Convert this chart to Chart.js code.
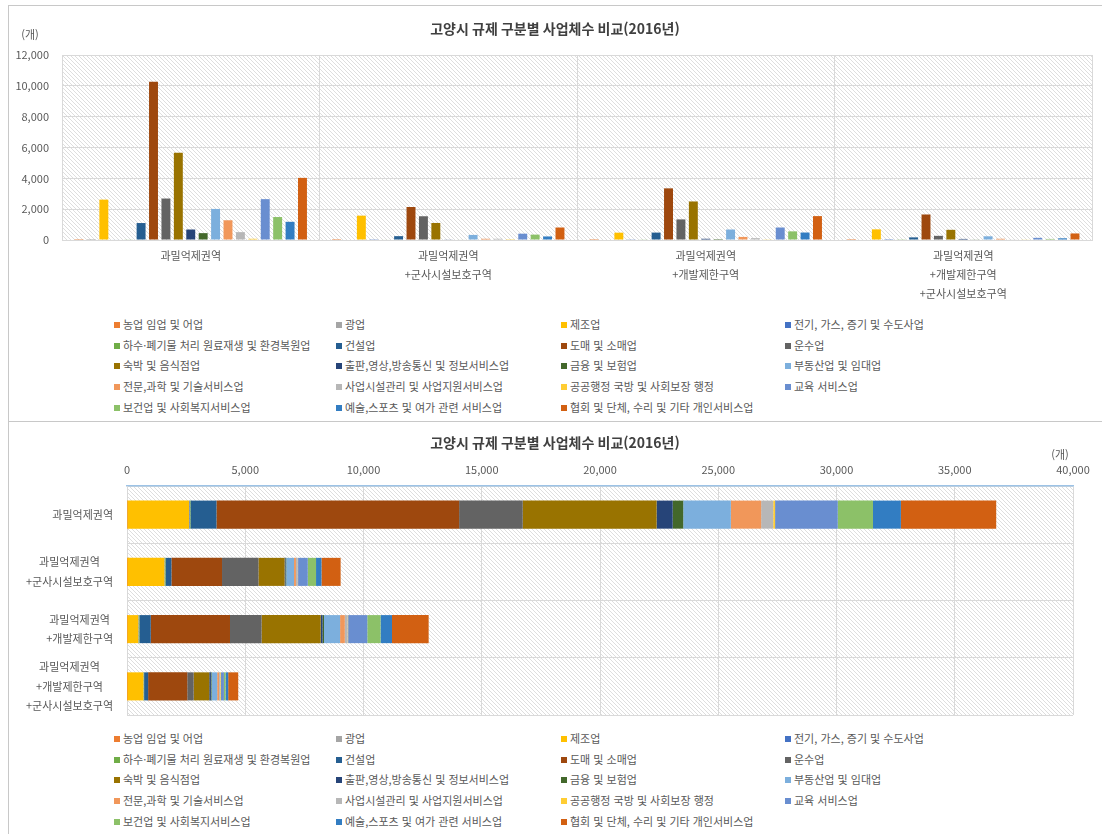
<!DOCTYPE html>
<html lang="ko">
<head>
<meta charset="utf-8">
<title>고양시 규제 구분별 사업체수 비교(2016년)</title>
<script src="https://cdn.jsdelivr.net/npm/chart.js@4.4.1/dist/chart.umd.min.js"></script>
<style>
    html, body { margin: 0; padding: 0; background: #fff; overflow: hidden; }
    body { width: 1102px; height: 834px; position: relative; font-family: "Noto Sans CJK KR", "Noto Sans", sans-serif; }
    .panel { position: absolute; left: 8px; width: 1100px; border: 1px solid #c8c8c8; box-sizing: border-box; background: #fff; overflow: hidden; }
    #topPanel { top: 5px; height: 417px; }
    #bottomPanel { top: 421px; height: 420px; }
    .panel canvas { position: absolute; left: 0; top: 0; }
    .legend { position: absolute; left: 105px; display: grid; grid-template-columns: 222px 225px 224px 250px; font-size: 11px; color: #595959; }
    .legend div { height: 20.7px; line-height: 20.7px; white-space: nowrap; }
    .legend i { display: inline-block; width: 6px; height: 6px; margin-right: 3px; vertical-align: middle; position: relative; top: -1px; }
</style>
</head>
<body>
<div class="panel" id="topPanel">
    <canvas id="groupChart" width="1092" height="300"></canvas>
    <div class="legend" id="topLegend" style="top:308px"></div>
</div>
<div class="panel" id="bottomPanel">
    <canvas id="stackChart" width="1092" height="306"></canvas>
    <div class="legend" id="bottomLegend" style="top:306px"></div>
</div>
<script>
// ---- data ----
const titleText = '고양시 규제 구분별 사업체수 비교(2016년)';
const unitText = '(개)';

const zones = [
    '과밀억제권역',
    ['과밀억제권역', '+군사시설보호구역'],
    ['과밀억제권역', '+개발제한구역'],
    ['과밀억제권역', '+개발제한구역', '+군사시설보호구역']
];

const industries = [
    '농업 임업 및 어업',
    '광업',
    '제조업',
    '전기, 가스, 증기 및 수도사업',
    '하수·폐기물 처리 원료재생 및 환경복원업',
    '건설업',
    '도매 및 소매업',
    '운수업',
    '숙박 및 음식점업',
    '출판,영상,방송통신 및 정보서비스업',
    '금융 및 보험업',
    '부동산업 및 임대업',
    '전문,과학 및 기술서비스업',
    '사업시설관리 및 사업지원서비스업',
    '공공행정 국방 및 사회보장 행정',
    '교육 서비스업',
    '보건업 및 사회복지서비스업',
    '예술,스포츠 및 여가 관련 서비스업',
    '협회 및 단체, 수리 및 기타 개인서비스업'
];

// one list per industry, values per zone (same order as zones)
const agriculture   = [5, 3, 5, 3];
const mining        = [3, 0, 0, 0];
const manufacturing = [2620, 1580, 475, 690];
const utilities     = [30, 15, 20, 10];
const sewage        = [25, 30, 25, 20];
const construction  = [1100, 250, 480, 170];
const wholesale     = [10260, 2140, 3350, 1655];
const transport     = [2690, 1540, 1335, 270];
const lodging       = [5660, 1105, 2500, 660];
const publishing    = [680, 40, 80, 70];
const finance       = [445, 30, 60, 25];
const realEstate    = [2015, 330, 680, 240];
const professional  = [1280, 80, 200, 80];
const facilities    = [510, 80, 120, 40];
const publicAdmin   = [80, 10, 20, 25];
const education     = [2650, 410, 810, 140];
const health        = [1490, 350, 560, 70];
const arts          = [1180, 230, 485, 110];
const associations  = [4030, 810, 1550, 425];

const seriesValues = [
    agriculture, mining, manufacturing, utilities, sewage, construction,
    wholesale, transport, lodging, publishing, finance, realEstate,
    professional, facilities, publicAdmin, education, health, arts, associations
];

const groupTicks = [0, 2000, 4000, 6000, 8000, 10000, 12000];
const stackTicks = [0, 5000, 10000, 15000, 20000, 25000, 30000, 35000, 40000];

// ---- styles ----
const seriesColors = [
    '#ED7D31', '#A5A5A5', '#FFC000', '#4472C4', '#70AD47', '#255E91',
    '#9E480E', '#636363', '#997300', '#264478', '#43682B', '#7CAFDD',
    '#F1975A', '#B7B7B7', '#FFCD33', '#698ED0', '#8CC168', '#327DC2', '#D26012'
];
const FONT = '"Noto Sans CJK KR", "Noto Sans", sans-serif';
const TEXT = '#595959';
const GRID = '#d9d9d9';

Chart.defaults.font.family = FONT;
Chart.defaults.color = TEXT;
Chart.defaults.animation = false;

function hatchPattern(ctx) {
    const c = document.createElement('canvas');
    c.width = 4;
    c.height = 4;
    const p = c.getContext('2d');
    p.strokeStyle = '#dedede';
    p.lineWidth = 1;
    p.beginPath();
    p.moveTo(-1, -1); p.lineTo(5, 5);
    p.moveTo(-1, 3); p.lineTo(1, 5);
    p.moveTo(3, -1); p.lineTo(5, 1);
    p.stroke();
    return ctx.createPattern(c, 'repeat');
}

// hatched plot background
const hatchPlugin = {
    id: 'hatch',
    beforeDraw(chart) {
        const { ctx, chartArea: a } = chart;
        ctx.save();
        ctx.fillStyle = hatchPattern(ctx);
        ctx.fillRect(a.left, a.top, a.right - a.left, a.bottom - a.top);
        ctx.restore();
    }
};

// title and unit label
const textPlugin = {
    id: 'texts',
    afterDraw(chart, args, opts) {
        const ctx = chart.ctx;
        ctx.save();
        ctx.textBaseline = 'middle';
        (opts.items || []).forEach(t => {
            ctx.font = t.font;
            ctx.fillStyle = t.color;
            ctx.textAlign = t.align || 'center';
            ctx.fillText(t.text, t.x === 'center' ? chart.width / 2 : t.x, t.y);
        });
        ctx.restore();
    }
};

// multi-line category labels: lines centred on each other, block right-aligned
const blockLabelPlugin = {
    id: 'blockLabels',
    afterDraw(chart, args, opts) {
        if (!opts.axis) return;
        const scale = chart.scales[opts.axis];
        const ctx = chart.ctx;
        ctx.save();
        ctx.font = opts.font;
        ctx.fillStyle = TEXT;
        ctx.textAlign = 'center';
        ctx.textBaseline = 'middle';
        chart.data.labels.forEach((label, i) => {
            const lines = [].concat(label);
            const w = Math.max(...lines.map(l => ctx.measureText(l).width));
            const cx = scale.right - opts.padding - w / 2;
            const y0 = scale.getPixelForTick(i) - (lines.length - 1) * opts.lineHeight / 2;
            lines.forEach((l, j) => ctx.fillText(l, cx, y0 + j * opts.lineHeight));
        });
        ctx.restore();
    }
};

function buildDatasets(extra) {
    return industries.map((name, i) => Object.assign({
        label: name,
        data: seriesValues[i],
        backgroundColor: seriesColors[i],
        borderWidth: 0
    }, extra));
}

function buildLegend(elementId) {
    const box = document.getElementById(elementId);
    industries.forEach((name, i) => {
        const item = document.createElement('div');
        const mark = document.createElement('i');
        mark.style.background = seriesColors[i];
        item.appendChild(mark);
        item.appendChild(document.createTextNode(name));
        box.appendChild(item);
    });
}

// ---- top: grouped columns ----
new Chart(document.getElementById('groupChart'), {
    type: 'bar',
    data: {
        labels: zones,
        datasets: buildDatasets({ categoryPercentage: 0.916, barPercentage: 0.72 })
    },
    options: {
        responsive: false,
        locale: 'en-US',
        layout: { padding: { top: 49, right: 9, left: 0, bottom: 0 } },
        plugins: {
            legend: { display: false },
            title: { display: false },
            tooltip: { enabled: false },
            texts: {
                items: [
                    { text: titleText, x: 'center', y: 23, font: 'bold 14px ' + FONT, color: '#404040' },
                    { text: unitText, x: 21, y: 29, font: '11px ' + FONT, color: TEXT }
                ]
            }
        },
        scales: {
            x: {
                grid: { color: GRID, drawTicks: false, offset: true },
                border: { color: GRID },
                ticks: { font: { size: 11, lineHeight: 1.75 }, padding: 6, color: TEXT, maxRotation: 0, autoSkip: false },
                afterFit(scale) { scale.height = 66; }
            },
            y: {
                min: 0,
                max: 12000,
                afterBuildTicks(scale) { scale.ticks = groupTicks.map(v => ({ value: v })); },
                grid: { color: GRID, drawTicks: false },
                border: { display: false },
                ticks: { font: { size: 11 }, padding: 13, color: TEXT },
                afterFit(scale) { scale.width = 53; }
            }
        }
    },
    plugins: [hatchPlugin, textPlugin]
});

// ---- bottom: stacked horizontal bars ----
new Chart(document.getElementById('stackChart'), {
    type: 'bar',
    data: {
        labels: zones,
        datasets: buildDatasets({ categoryPercentage: 1, barPercentage: 0.49 })
    },
    options: {
        responsive: false,
        indexAxis: 'y',
        locale: 'en-US',
        layout: { padding: { top: 0, right: 28, left: 0, bottom: 13 } },
        plugins: {
            legend: { display: false },
            title: { display: false },
            tooltip: { enabled: false },
            texts: {
                items: [
                    { text: titleText, x: 'center', y: 21, font: 'bold 14px ' + FONT, color: '#404040' },
                    { text: unitText, x: 1051, y: 33, font: '11px ' + FONT, color: TEXT }
                ]
            },
            blockLabels: { axis: 'y', font: '11px ' + FONT, padding: 14, lineHeight: 19.5 }
        },
        scales: {
            x: {
                position: 'top',
                stacked: true,
                min: 0,
                max: 40000,
                afterBuildTicks(scale) { scale.ticks = stackTicks.map(v => ({ value: v })); },
                grid: { color: GRID, drawTicks: false },
                border: { color: '#9DC3E6', width: 1.5 },
                ticks: { font: { size: 11 }, padding: 10, color: TEXT, maxRotation: 0 },
                afterFit(scale) { scale.height = 64; }
            },
            y: {
                stacked: true,
                grid: { color: GRID, drawTicks: false, offset: true },
                border: { color: GRID },
                ticks: { display: false },
                afterFit(scale) { scale.width = 118; }
            }
        }
    },
    plugins: [hatchPlugin, textPlugin, blockLabelPlugin]
});

buildLegend('topLegend');
buildLegend('bottomLegend');
</script>
</body>
</html>
